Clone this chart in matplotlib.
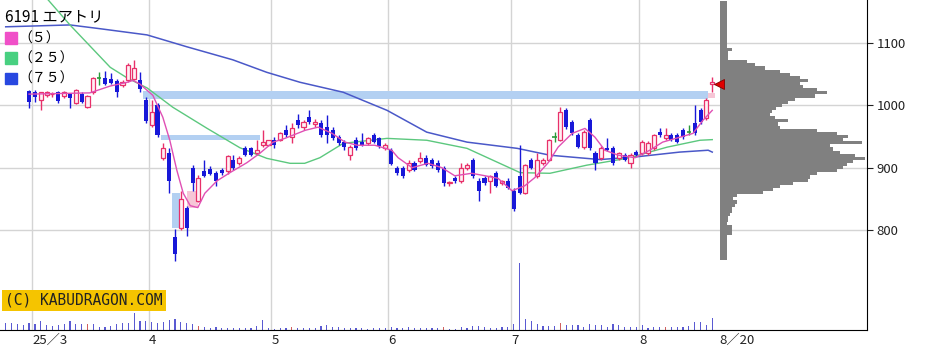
import numpy as np
import matplotlib.pyplot as plt
from matplotlib.patches import Patch, Rectangle

plt.rcParams['font.family'] = ['Noto Sans CJK JP', 'DejaVu Sans']

# trading-day index, 0 = 2025-03-03
days = np.arange(-1, 117)
opens = [1023,
         1021, 1008, 1016, 1018, 1021, 1015, 1018, 1003, 1018, 997,
         1021, 1044, 1044, 1042, 1039, 1032, 1040, 1042, 1040, 1008,
         968, 1000, 915, 923, 788, 804, 836, 900, 847, 895,
         898, 892, 897, 894, 913, 907, 931, 931, 923, 936,
         937, 945, 945, 960, 949, 976, 965, 982, 970, 971,
         965, 960, 949, 941, 920, 945, 941, 939, 952, 947,
         931, 928, 900, 899, 896, 907, 910, 916, 912, 908,
         899, 875, 884, 878, 900, 912, 879, 883, 879, 891,
         876, 879, 863, 887, 860, 912, 887, 908, 912, 949,
         944, 992, 973, 952, 933, 976, 923, 916, 931, 931,
         915, 920, 908, 925, 923, 923, 931, 957, 947, 952,
         952, 960, 957, 971, 992, 979, 1034]
highs = [1024,
         1024, 1022, 1023, 1021, 1023, 1023, 1020, 1026, 1021, 1016,
         1046, 1053, 1055, 1052, 1043, 1040, 1068, 1073, 1053, 1013,
         1008, 1003, 939, 931, 802, 863, 839, 904, 888, 912,
         902, 895, 900, 920, 920, 918, 934, 933, 944, 960,
         945, 949, 957, 968, 971, 986, 976, 992, 978, 976,
         984, 965, 953, 944, 936, 949, 955, 950, 955, 950,
         939, 931, 903, 903, 912, 910, 925, 920, 915, 912,
         902, 879, 887, 908, 908, 915, 883, 886, 889, 894,
         880, 884, 868, 936, 906, 916, 923, 915, 946, 957,
         997, 995, 976, 955, 960, 979, 926, 934, 947, 934,
         925, 923, 923, 929, 944, 942, 954, 963, 963, 955,
         955, 963, 968, 1000, 995, 1011, 1045]
lows = [995,
        1005, 992, 1013, 1014, 1004, 1012, 995, 1002, 1003, 995,
        1019, 1032, 1033, 1034, 1013, 1030, 1038, 1040, 1021, 972,
        965, 950, 912, 860, 751, 800, 791, 863, 845, 885,
        888, 871, 889, 890, 897, 905, 918, 919, 921, 933,
        934, 932, 943, 950, 939, 963, 960, 970, 965, 950,
        939, 944, 936, 928, 913, 928, 934, 936, 939, 931,
        928, 904, 889, 884, 893, 894, 907, 903, 900, 893,
        871, 871, 875, 875, 896, 884, 847, 872, 860, 869,
        872, 865, 831, 858, 857, 898, 884, 905, 910, 941,
        942, 962, 952, 931, 930, 929, 896, 913, 926, 905,
        912, 910, 900, 918, 920, 920, 929, 950, 944, 942,
        939, 946, 952, 952, 970, 976, 1021]
closes = [1005,
          1013, 1021, 1021, 1019, 1007, 1021, 1011, 1024, 1005, 1015,
          1044, 1044, 1034, 1036, 1021, 1037, 1064, 1060, 1027, 975,
          989, 952, 931, 879, 762, 850, 804, 875, 884, 887,
          890, 879, 891, 918, 900, 916, 920, 921, 928, 941,
          944, 936, 955, 952, 963, 968, 973, 974, 974, 952,
          952, 947, 939, 933, 933, 931, 936, 947, 941, 934,
          936, 906, 892, 887, 907, 896, 915, 905, 902, 896,
          875, 877, 879, 899, 904, 887, 863, 875, 887, 871,
          878, 868, 834, 860, 904, 900, 912, 912, 944, 949,
          989, 965, 955, 933, 957, 931, 907, 931, 928, 908,
          923, 912, 920, 920, 941, 939, 952, 952, 952, 944,
          941, 949, 957, 955, 973, 1008, 1037]

vol_days = np.arange(-5, 117)
volume = [70, 70, 60, 50, 70,
          60, 90, 50, 40, 50, 60, 90, 60, 60, 60,
          60, 30, 30, 40, 60, 70, 70, 170, 90, 90,
          80, 70, 80, 100, 110, 80, 70, 60, 40, 30,
          20, 30, 20, 20, 20, 20, 20, 20, 40, 100,
          20, 15, 20, 20, 30, 20, 20, 20, 20, 40,
          50, 30, 30, 20, 20, 20, 20, 15, 20, 20,
          20, 30, 20, 20, 30, 20, 20, 20, 20, 20,
          30, 10, 15, 30, 20, 40, 40, 30, 20, 20,
          30, 30, 60, 670, 110, 90, 60, 40, 40, 40,
          70, 50, 50, 50, 30, 60, 50, 50, 30, 60,
          50, 30, 30, 30, 50, 20, 30, 30, 30, 30,
          30, 30, 40, 80, 80, 50, 120]
vol_red_days = [9, 28, 44, 70, 90, 108]

# moving averages
ma5_days = [-1, 9.4, 12.9, 15.8, 16.8, 18, 20.2, 21.9, 23.1, 24.3, 25.4, 26.6, 27.9,
            29.1, 31.2, 33.4, 36.3, 38.5, 40.8, 42.8, 46.3, 48.5, 50.9, 53.1, 55.2,
            58.2, 61.1, 62.2, 64.6, 67.3, 69.7, 71.9, 74.8, 77.1, 79.3, 81.7, 83.9,
            85.6, 87.9, 89.6, 92, 94.2, 95.9, 97.6, 99.9, 102.8, 105.3, 107.5, 110.5,
            112.7, 114.4, 116]
ma5 = [1018, 1020, 1031, 1037, 1040, 1034, 1016, 981, 944, 896, 859, 839, 836,
       859, 879, 892, 908, 923, 941, 947, 960, 965, 955, 941, 936,
       936, 928, 916, 900, 907, 900, 887, 891, 887, 883, 863, 871,
       884, 908, 933, 955, 963, 949, 928, 920, 916, 928, 941, 949,
       955, 976, 992]
ma25_days = [2, 6, 12.9, 15.8, 19.2, 23.6, 29.5, 35.1, 39.7, 43.7, 46.2, 48.8, 52.8,
             60.3, 67.1, 74, 79.6, 83.1, 88.2, 94.5, 101.4, 108.3, 113.9, 116]
ma25 = [1172, 1129, 1061, 1044, 1028, 997, 963, 932, 915, 907, 907, 916, 939,
        947, 944, 931, 907, 892, 891, 904, 915, 933, 944, 945]
ma75_days = [-5, 6, 11.1, 19.2, 26, 33.9, 39.7, 45.4, 52.8, 60.3, 67.1, 74, 82.6,
             88.2, 96.8, 103.6, 110.4, 115.3, 116]
ma75 = [1126, 1129, 1123, 1113, 1094, 1073, 1053, 1037, 1021, 992, 957, 941, 931,
        920, 913, 918, 925, 928, 925]

# unfilled gap windows: (start day, end day, low, high)
gap_bands = [(18.5, 115.3, 1010, 1023), (21.6, 38.5, 944, 952), (23.5, 24.8, 804, 860)]
gap_up = [(26.1, 27.9, 836, 863), (115.3, 116.5, 1012, 1020)]

# price-by-volume profile
profile_prices = np.arange(755, 1170, 5)
profile_vol = [7, 7, 7, 7, 7, 7, 7, 7, 12, 12, 12, 7, 8, 8, 10, 12, 12, 15, 17, 13, 17,
               43, 53, 60, 73, 88, 90, 97, 117, 123, 127, 133, 145, 135, 120, 113, 110,
               142, 123, 128, 117, 97, 60, 58, 68, 55, 50, 52, 56, 62, 68, 75, 95, 107,
               97, 83, 80, 88, 80, 70, 60, 45, 35, 27, 8, 8, 8, 12,
               7, 7, 7, 7, 7, 7, 7, 7, 7, 7, 7, 7, 7, 7, 7]
last_price = 1035

month_edges = [-0.5, 19.5, 40.5, 60.5, 81.5, 103.5]
month_labels = ['25／3', '4', '5', '6', '7', '8']

W, H = 925, 356
fig = plt.figure(figsize=(W / 100, H / 100), dpi=100)
pos = [0, 26 / H, 867 / W, 330 / H]
xlim = (-5.98, 142.5)

vax = fig.add_axes(pos)
vax.set_xlim(*xlim)
vax.set_ylim(0, 3300)
vcol = ['#d06060' if d in vol_red_days else '#5a5ad2' for d in vol_days]
vax.bar(vol_days, volume, width=0.2, color=vcol)
vax.axis('off')

ax = fig.add_axes(pos)
ax.patch.set_visible(False)
ax.set_xlim(*xlim)
ax.set_ylim(639.6, 1169)

for e in month_edges:
    ax.axvline(e, color='#d4d4d4', lw=1, zorder=0)
ax.grid(axis='y', color='#d4d4d4', lw=1)
ax.set_axisbelow(True)

for s, e, lo, hi in gap_bands:
    ax.add_patch(Rectangle((s, lo), e - s, hi - lo, color='#b3d0f2', lw=0, zorder=1))
for s, e, lo, hi in gap_up:
    ax.add_patch(Rectangle((s, lo), e - s, hi - lo, color='#f6c6d6', lw=0, zorder=1))

ax.plot(ma75_days, ma75, color='#4a58c8', lw=1.1, zorder=2)
ax.plot(ma25_days, ma25, color='#5cc87e', lw=1, zorder=2)

o, h, l, c = map(np.array, (opens, highs, lows, closes))
up = c > o
dn = c < o
dj = c == o
ax.vlines(days[up], l[up], h[up], color='#e8306a', lw=1, zorder=3)
ax.vlines(days[dn], l[dn], h[dn], color='#1818d8', lw=1, zorder=3)
ax.vlines(days[dj], l[dj], h[dj], color='#2a9a3a', lw=1, zorder=3)
ax.bar(days[up], c[up] - o[up], bottom=o[up], width=0.7,
       facecolor='#fff0f4', edgecolor='#e8306a', lw=0.9, zorder=4)
ax.bar(days[dn], o[dn] - c[dn], bottom=c[dn], width=0.7,
       color='#1818d8', lw=0, zorder=4)
ax.hlines(c[dj], days[dj] - 0.38, days[dj] + 0.38, color='#2a9a3a', lw=1.2, zorder=4)

ax.plot(ma5_days, ma5, color='#e050b4', lw=1, zorder=5)

ax.spines['left'].set_visible(False)
ax.spines['top'].set_visible(False)
ax.yaxis.tick_right()
ax.set_yticks([800, 900, 1000, 1100])
ax.tick_params(axis='y', direction='out', length=4, labelsize=9.5, pad=3, colors='#222222')
ax.set_xticks(month_edges + [117.3], month_labels + ['8／20'])
ax.tick_params(axis='x', length=0, labelsize=9.5, pad=3, colors='#222222')
for lbl in ax.get_xticklabels():
    lbl.set_ha('left')

ax.text(0.006, 0.09, '(C) KABUDRAGON.COM', transform=ax.transAxes, family='DejaVu Sans Mono',
        fontsize=10.5, color='#222222', va='center', ha='left', zorder=10,
        bbox=dict(boxstyle='square,pad=0.2', fc='#f5c400', ec='none'))

handles = [Patch(color='#f050c8', label='（５）'),
           Patch(color='#48d080', label='（２５）'),
           Patch(color='#2848e0', label='（７５）')]
leg = ax.legend(handles=handles, title='6191 エアトリ', loc='upper left',
                bbox_to_anchor=(-0.004, 1.0), frameon=False, fontsize=10,
                title_fontsize=11, handlelength=0.9, handleheight=0.9,
                handletextpad=0.05, labelspacing=0.45, borderaxespad=0.2,
                alignment='left')

pax = fig.add_axes([720 / W, 26 / H, 147 / W, 330 / H], sharey=ax)
pax.patch.set_visible(False)
pax.barh(profile_prices, profile_vol, height=5, color='#808080', lw=0)
pax.set_xlim(0, 147)
pax.plot([-1.5], [last_price], marker='<', markersize=7, color='#e00000',
         markeredgecolor='#800000', markeredgewidth=0.6, clip_on=False, zorder=6)
pax.axis('off')

fig.savefig('out.png', dpi=100)
